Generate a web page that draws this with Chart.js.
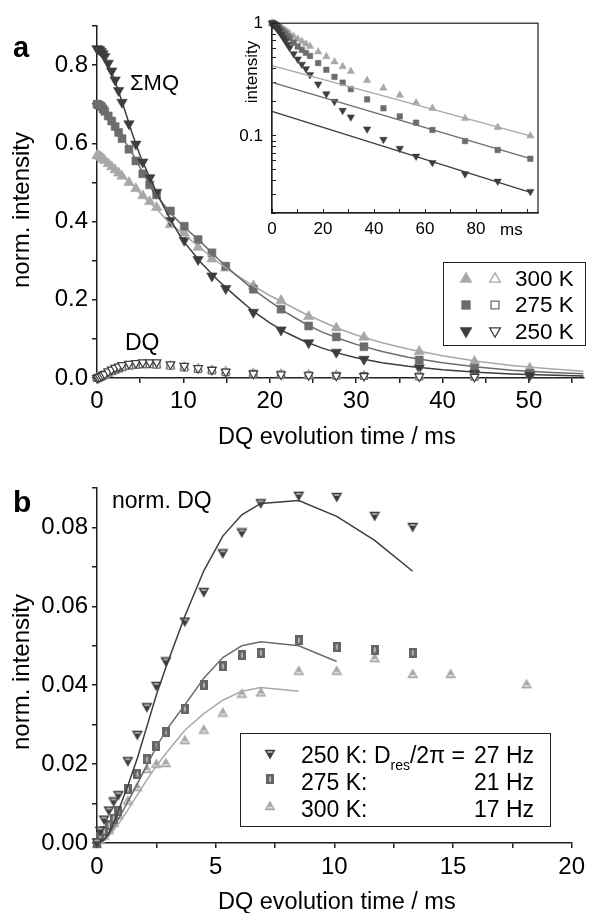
<!DOCTYPE html>
<html>
<head>
<meta charset="utf-8">
<title>DQ build-up</title>
<script src="https://cdn.jsdelivr.net/npm/chart.js@4.4.1/dist/chart.umd.min.js"></script>
<style>
html,body{margin:0;padding:0;background:#fff}
body{position:relative;width:590px;height:913px;overflow:hidden;font-family:"Liberation Sans",Arial,Helvetica,sans-serif;color:#000}
canvas{position:absolute;display:block}
.t{position:absolute;white-space:nowrap}
.box{position:absolute;box-sizing:border-box;border:1.5px solid #231f20;background:transparent}
</style>
</head>
<body>
<canvas id="cA" width="590" height="460" style="left:0;top:0;width:590px;height:460px"></canvas>
<canvas id="cI" width="350" height="250" style="left:230px;top:0;width:350px;height:250px"></canvas>
<canvas id="cB" width="590" height="453" style="left:0;top:460px;width:590px;height:453px"></canvas>
<script>
// ---------------- data ----------------
const times = [0,0.13,0.3,0.5,0.7,0.9,1.3,1.7,2.1,2.5,2.9,3.7,4.5,5.3,6.1,6.9,8.5,10.1,11.7,13.3,14.9,18.1,21.3,24.5,27.7,30.9,37.3,43.7,50.1,56.5,62.9,75.7,88.5,101.3];

// panel a: sum-MQ (filled symbols)
const mq250 = [0.842,0.841,0.839,0.835,0.829,0.822,0.805,0.785,0.762,0.735,0.705,0.650,0.598,0.552,0.512,0.475,0.403,0.352,0.303,0.261,0.229,0.168,0.123,0.090,0.066,0.048,0.026,0.012,0.007];
const mq275 = [0.700,0.699,0.697,0.694,0.688,0.682,0.670,0.657,0.643,0.628,0.612,0.585,0.555,0.522,0.494,0.468,0.427,0.388,0.354,0.320,0.286,0.227,0.176,0.133,0.105,0.080,0.046,0.025,0.012];
const mq300 = [0.569,0.568,0.567,0.564,0.560,0.556,0.548,0.540,0.532,0.524,0.516,0.500,0.484,0.466,0.451,0.436,0.392,0.371,0.334,0.304,0.281,0.236,0.198,0.157,0.128,0.104,0.068,0.042,0.025];
// panel a: DQ (open symbols)
const dq250 = [0,0.0005,0.0025,0.0048,0.0075,0.0099,0.0166,0.0214,0.026,0.029,0.033,0.036,0.038,0.040,0.040,0.040,0.035,0.031,0.025,0.021,0.016,0.011,0.009,0.007,0.006,0.005,0.004,0.003];
const dq275 = [0,0.0004,0.002,0.004,0.007,0.009,0.014,0.018,0.022,0.025,0.028,0.032,0.034,0.035,0.035,0.034,0.031,0.027,0.023,0.019,0.015,0.011,0.009,0.007,0.006,0.005,0.004,0.003];
const dq300 = [0,0.0003,0.0015,0.003,0.005,0.007,0.011,0.015,0.019,0.022,0.025,0.029,0.031,0.033,0.034,0.034,0.031,0.028,0.024,0.020,0.017,0.012,0.010,0.008,0.007,0.006,0.005,0.004];
// panel a: fits of sum-MQ
const fitTimesA = [0,1,2,3,4,5,6,7,8,9,10,12,14,16,18,20,22,24,26,28,30,33,36,40,44,48,52,56.3];
const fitA250 = [0.845,0.815,0.765,0.70,0.63,0.568,0.517,0.470,0.426,0.386,0.350,0.296,0.250,0.210,0.172,0.141,0.115,0.094,0.077,0.063,0.052,0.039,0.030,0.021,0.0145,0.0105,0.0075,0.005];
const fitA275 = [0.70,0.68,0.648,0.612,0.578,0.537,0.498,0.463,0.436,0.41,0.388,0.348,0.305,0.265,0.228,0.196,0.166,0.140,0.118,0.101,0.086,0.068,0.053,0.039,0.028,0.020,0.015,0.011];
const fitA300 = [0.57,0.556,0.537,0.516,0.496,0.472,0.45,0.43,0.405,0.386,0.368,0.332,0.296,0.265,0.237,0.211,0.188,0.165,0.145,0.126,0.110,0.090,0.074,0.057,0.043,0.032,0.024,0.017];

// inset (log scale)
const in250 = [1.0,1.0,0.995,0.985,0.975,0.962,0.94,0.915,0.89,0.865,0.84,0.79,0.74,0.695,0.65,0.607,0.535,0.48,0.432,0.394,0.35,0.288,0.236,0.202,0.168,0.147,0.115,0.093,0.0774,0.066,0.058,0.046,0.0396,0.0321];
const in275 = [1.0,1.0,0.997,0.993,0.988,0.982,0.97,0.956,0.94,0.925,0.91,0.875,0.84,0.805,0.77,0.74,0.675,0.62,0.58,0.545,0.512,0.443,0.386,0.334,0.297,0.26,0.211,0.176,0.149,0.131,0.113,0.090,0.075,0.0627];
const in300 = [1.0,1.0,0.998,0.995,0.991,0.986,0.977,0.967,0.956,0.945,0.934,0.91,0.885,0.86,0.835,0.81,0.765,0.725,0.69,0.655,0.624,0.557,0.506,0.455,0.412,0.374,0.311,0.266,0.230,0.197,0.176,0.143,0.119,0.10];
const inFitTimes = [0,101.3];
const inFit250 = [0.165,0.0316];
const inFit275 = [0.299,0.0628];
const inFit300 = [0.421,0.100];
const inYTicks = [0.0207,0.03,0.04,0.05,0.06,0.07,0.08,0.09,0.1,0.2,0.3,0.4,0.5,0.6,0.7,0.8,0.9,1];
const inXLabels = [0,20,40,60,80];

// panel b: normalized DQ
const nd250 = [0,0.003,0.0058,0.0081,0.0104,0.012,0.0206,0.0273,0.0343,0.0397,0.0459,0.056,0.0635,0.0733,0.0786,0.086,0.0879,0.0876,0.0828,0.080];
const nd275 = [0,0.0015,0.003,0.0045,0.0062,0.0082,0.0136,0.0174,0.0212,0.0246,0.0282,0.034,0.040,0.0448,0.0476,0.0482,0.0514,0.0497,0.049,0.0482];
const nd300 = [0,0.001,0.002,0.0035,0.0052,0.0072,0.0109,0.0143,0.0189,0.0202,0.0204,0.0262,0.0289,0.0332,0.038,0.0383,0.0438,0.0438,0.047,0.043,0.043,0.0404];
const fitB250 = [0,0.0002,0.0009,0.0026,0.005,0.0082,0.0145,0.0215,0.0295,0.0375,0.0445,0.0575,0.069,0.0778,0.0832,0.0861,0.0868,0.0828,0.0767,0.0689];
const fitB275 = [0,0.0001,0.0008,0.0022,0.004,0.006,0.0105,0.015,0.0197,0.0243,0.0285,0.035,0.0418,0.047,0.050,0.051,0.050,0.046];
const fitB300 = [0,0.0001,0.0006,0.0018,0.0032,0.0048,0.0084,0.0122,0.016,0.0195,0.0227,0.0286,0.0328,0.0362,0.0385,0.0394,0.0385];

const legendA = ['300 K','275 K','250 K'];
const legendB = [['250 K: D<span class="sub">res</span>/2\u03c0 =','27 Hz'],['275 K:','21 Hz'],['300 K:','17 Hz']];

// ---------------- style ----------------
const C250 = '#3d3d3d', C275 = '#6c6c6c', C300 = '#a8a8a8';
const AX = '#231f20';
const FAM = '"Liberation Sans", Arial, Helvetica, sans-serif';
Chart.defaults.font.family = FAM;
Chart.defaults.color = '#000';

function pts(xs, ys){ return ys.map((y,i)=>({x:xs[i], y:y})); }

function lineDS(xs, ys, color, w){
  return {data:pts(xs,ys), showLine:true, borderColor:color, borderWidth:w||1.5, pointRadius:0,
          fill:false, tension:0, clip:false};
}
function markDS(xs, ys, style, rot, r, fill, stroke, bw){
  return {data:pts(xs,ys), showLine:false, pointStyle:style, pointRotation:rot, pointRadius:r,
          pointBackgroundColor:fill, pointBorderColor:stroke, pointBorderWidth:bw, clip:false};
}
function imgDS(xs, ys, img){
  return {data:pts(xs,ys), showLine:false, pointStyle:img, pointRadius:5, clip:false};
}
const baseOpts = {responsive:false, animation:false, events:[],
  plugins:{legend:{display:false}, tooltip:{enabled:false}}};

function axisCfg(extra){
  return Object.assign({
    grid:{drawOnChartArea:false, drawTicks:true, tickLength:5, color:AX, lineWidth:1.5},
    border:{display:true, color:AX, width:1.5}
  }, extra);
}

// ---------------- panel a ----------------
new Chart(document.getElementById('cA'), {
  type:'scatter',
  data:{datasets:[
    lineDS(fitTimesA, fitA250, C250),
    lineDS(fitTimesA, fitA275, C275),
    lineDS(fitTimesA, fitA300, C300),
    markDS(times.slice(0,28), dq250, 'triangle', 180, 5, '#fff', C250, 1.2),
    markDS(times.slice(0,28), dq275, 'rect', 0, 4.8, '#fff', C275, 1.2),
    markDS(times.slice(0,28), dq300, 'triangle', 0, 5, '#fff', C300, 1.2),
    markDS(times, mq250, 'triangle', 180, 6, C250, C250, 0.6),
    markDS(times, mq275, 'rect', 0, 5.6, C275, C275, 0.6),
    markDS(times, mq300, 'triangle', 0, 6, C300, C300, 0.6)
  ]},
  options:Object.assign({}, baseOpts, {
    layout:{padding:{left:0, right:2, top:26, bottom:0}},
    scales:{
      x: axisCfg({type:'linear', min:0, max:56.3,
        ticks:{stepSize:5, includeBounds:false, autoSkip:false, maxRotation:0, padding:4,
               font:{size:24}, color:'#000',
               callback:(v)=> (Math.round(v)%10===0 ? String(Math.round(v)) : '')},
        afterFit:(s)=>{ s.height = 82; }}),
      y: axisCfg({type:'linear', min:0, max:0.9,
        ticks:{stepSize:0.1, autoSkip:false, padding:4, font:{size:24}, color:'#000',
               callback:(v)=>{ const k=Math.round(v*10); return k%2===0 ? (k/10).toFixed(1) : ''; }},
        afterFit:(s)=>{ s.width = 97; }})
    }
  })
});

// ---------------- inset ----------------
const framePlugin = {id:'frame', afterDraw(chart){
  const a = chart.chartArea, g = chart.ctx;
  g.save(); g.strokeStyle = AX; g.lineWidth = 1.2;
  g.strokeRect(a.left, a.top, a.right-a.left, a.bottom-a.top); g.restore();
}};
new Chart(document.getElementById('cI'), {
  type:'scatter',
  data:{datasets:[
    lineDS(inFitTimes, inFit250, C250, 1.3),
    lineDS(inFitTimes, inFit275, C275, 1.3),
    lineDS(inFitTimes, inFit300, C300, 1.3),
    markDS(times, in250, 'triangle', 180, 4.3, C250, C250, 0.5),
    markDS(times, in275, 'rect', 0, 3.9, C275, C275, 0.5),
    markDS(times, in300, 'triangle', 0, 4.3, C300, C300, 0.5)
  ]},
  options:Object.assign({}, baseOpts, {
    layout:{padding:{left:0, right:42, top:16, bottom:0}},
    scales:{
      x:{type:'linear', min:0, max:104.3,
        grid:{drawOnChartArea:false, drawTicks:true, tickLength:-4, color:AX, lineWidth:1},
        border:{display:true, color:AX, width:1.2},
        ticks:{stepSize:10, includeBounds:false, autoSkip:false, maxRotation:0, padding:10,
               font:{size:17}, color:'#000',
               callback:(v)=> (inXLabels.indexOf(Math.round(v))>=0 ? String(Math.round(v)) : '')},
        afterFit:(s)=>{ s.height = 37; }},
      y:{type:'logarithmic', min:0.0207, max:1,
        grid:{drawOnChartArea:false, drawTicks:true, tickLength:-4, color:AX, lineWidth:1},
        border:{display:true, color:AX, width:1.2},
        afterBuildTicks:(s)=>{ s.ticks = inYTicks.map(v=>({value:v})); },
        ticks:{autoSkip:false, padding:13, font:{size:17}, color:'#000',
               callback:(v)=> (v===1 ? '1' : (Math.abs(v-0.1)<1e-9 ? '0.1' : ''))},
        afterFit:(s)=>{ s.width = 42; }}
    }
  }),
  plugins:[framePlugin]
});

// ---------------- panel b ----------------
function imgTri(color, down, bar){
  const w=12, h=11, c=document.createElement('canvas'); c.width=w; c.height=h;
  const g=c.getContext('2d'); g.fillStyle=color; g.beginPath();
  if(down){ g.moveTo(0.5,0.8); g.lineTo(w-0.5,0.8); g.lineTo(w/2,h-0.4); }
  else { g.moveTo(w/2,0.4); g.lineTo(w-0.5,h-0.8); g.lineTo(0.5,h-0.8); }
  g.closePath(); g.fill();
  g.strokeStyle=bar; g.lineWidth=1.2; g.beginPath();
  const yb = down ? 3.0 : h-3.2; g.moveTo(3.4,yb); g.lineTo(w-3.4,yb); g.stroke();
  return c;
}
function imgSq(color){
  const w=8, h=10, c=document.createElement('canvas'); c.width=w; c.height=h;
  const g=c.getContext('2d'); g.fillStyle=color; g.fillRect(0,0,w,h);
  g.fillStyle='#ececec'; g.fillRect(3.5,2.5,1.2,h-5);
  return c;
}
const mk250 = imgTri(C250, true, '#e8e8e8');
const mk275 = imgSq('#656565');
const mk300 = imgTri(C300, false, '#f4f4f4');

new Chart(document.getElementById('cB'), {
  type:'scatter',
  data:{datasets:[
    lineDS(times.slice(0,20), fitB250, C250),
    lineDS(times.slice(0,18), fitB275, C275),
    lineDS(times.slice(0,17), fitB300, C300),
    imgDS(times.slice(0,20), nd250, mk250),
    imgDS(times.slice(0,20), nd275, mk275),
    imgDS(times.slice(0,22), nd300, mk300)
  ]},
  options:Object.assign({}, baseOpts, {
    layout:{padding:{left:0, right:16, top:28, bottom:0}},
    scales:{
      x: axisCfg({type:'linear', min:0, max:20,
        ticks:{stepSize:2.5, includeBounds:false, autoSkip:false, maxRotation:0, padding:5,
               font:{size:24}, color:'#000',
               callback:(v)=> (Math.abs(v/5-Math.round(v/5))<1e-6 ? String(Math.round(v)) : '')},
        afterFit:(s)=>{ s.height = 70; }}),
      y: axisCfg({type:'linear', min:0, max:0.09,
        ticks:{stepSize:0.01, autoSkip:false, padding:4, font:{size:24}, color:'#000',
               callback:(v)=>{ const k=Math.round(v*100); return k%2===0 ? (k/100).toFixed(2) : ''; }},
        afterFit:(s)=>{ s.width = 97; }})
    }
  })
});

// ---------------- text & legends (HTML) ----------------
function txt(html, x, base, size, bold){
  const d=document.createElement('div'); d.className='t'; d.innerHTML=html;
  d.style.fontSize=size+'px'; d.style.lineHeight=size+'px';
  d.style.left=x+'px'; d.style.top=(base-0.8465*size)+'px';
  if(bold) d.style.fontWeight='bold';
  document.body.appendChild(d); return d;
}
function vtxt(str, cx, cy, size){
  const d=document.createElement('div'); d.className='t'; d.textContent=str;
  d.style.fontSize=size+'px'; d.style.lineHeight=size+'px';
  d.style.left=cx+'px'; d.style.top=cy+'px';
  d.style.transform='translate(-50%,-50%) rotate(-90deg)';
  document.body.appendChild(d); return d;
}
function box(l,t,r,b){
  const d=document.createElement('div'); d.className='box';
  d.style.left=l+'px'; d.style.top=t+'px'; d.style.width=(r-l)+'px'; d.style.height=(b-t)+'px';
  document.body.appendChild(d);
}
function shape(cx, cy, kind, r, fill, stroke, bw){
  const s=22, c=document.createElement('canvas'); c.width=s; c.height=s;
  c.style.left=(cx-s/2)+'px'; c.style.top=(cy-s/2)+'px'; c.style.width=s+'px'; c.style.height=s+'px';
  const g=c.getContext('2d'); g.fillStyle=fill; g.strokeStyle=stroke; g.lineWidth=bw;
  const x=s/2, y=s/2; g.beginPath();
  if(kind==='rect'){ const h=r*Math.SQRT1_2; g.rect(x-h,y-h,2*h,2*h); }
  else { const rot = kind==='down' ? Math.PI : 0; let a=rot;
    for(let i=0;i<3;i++){ const px=x+Math.sin(a)*r, py=y-Math.cos(a)*r; if(i===0) g.moveTo(px,py); else g.lineTo(px,py); a+=2*Math.PI/3; }
    g.closePath(); }
  g.fill(); if(bw>0) g.stroke();
  document.body.appendChild(c);
}
function putImg(img, cx, cy){
  const c=document.createElement('canvas'); c.width=img.width; c.height=img.height;
  c.style.left=(cx-img.width/2)+'px'; c.style.top=(cy-img.height/2)+'px';
  c.style.width=img.width+'px'; c.style.height=img.height+'px';
  c.getContext('2d').drawImage(img,0,0); document.body.appendChild(c);
}

const st=document.createElement('style');
st.textContent='.sub{font-size:14px;position:relative;top:7px}.rowb{position:absolute;display:flex;justify-content:space-between;white-space:nowrap}';
document.head.appendChild(st);

// panel a labels
txt('a', 13, 58, 29, true);
txt('\u03a3MQ', 130, 91, 22);
txt('DQ', 125, 350, 23);
vtxt('norm. intensity', 20.7, 210, 24);
txt('DQ evolution time / ms', 218, 445, 23.5);
// inset labels
vtxt('intensity', 251, 72, 17);
txt('ms', 500, 235, 17);
// legend a
box(443, 262, 586, 346);
const legY=[279,305,331], legBase=[287,313,340];
shape(466, legY[0], 'up', 7, C300, C300, 0.5);   shape(495, legY[0], 'up', 6.2, '#fff', C300, 1.3);
shape(466, legY[1], 'rect', 6.2, C275, C275, 0.5); shape(495, legY[1], 'rect', 5.6, '#fff', C275, 1.3);
shape(466, legY[2], 'down', 7, C250, C250, 0.5); shape(495, legY[2], 'down', 6.2, '#fff', C250, 1.3);
legendA.forEach((s,i)=> txt(s, 515, legBase[i], 22.5));

// panel b labels
txt('b', 13, 512, 30, true);
txt('norm. DQ', 112, 508, 23);
vtxt('norm. intensity', 20.7, 672, 24);
txt('DQ evolution time / ms', 218, 910, 23.5);
// legend b
box(240, 733, 551, 827);
putImg(mk250, 270, 754); putImg(mk275, 270, 779); putImg(mk300, 270, 805);
const lbBase=[763,790,817];
legendB.forEach((p,i)=>{
  const d=document.createElement('div'); d.className='rowb';
  d.style.left='301px'; d.style.width='233px'; d.style.fontSize='23px'; d.style.lineHeight='23px';
  d.style.top=(lbBase[i]-0.8465*23)+'px';
  d.innerHTML='<span>'+p[0]+'</span><span>'+p[1]+'</span>';
  document.body.appendChild(d);
});
</script>
</body>
</html>
